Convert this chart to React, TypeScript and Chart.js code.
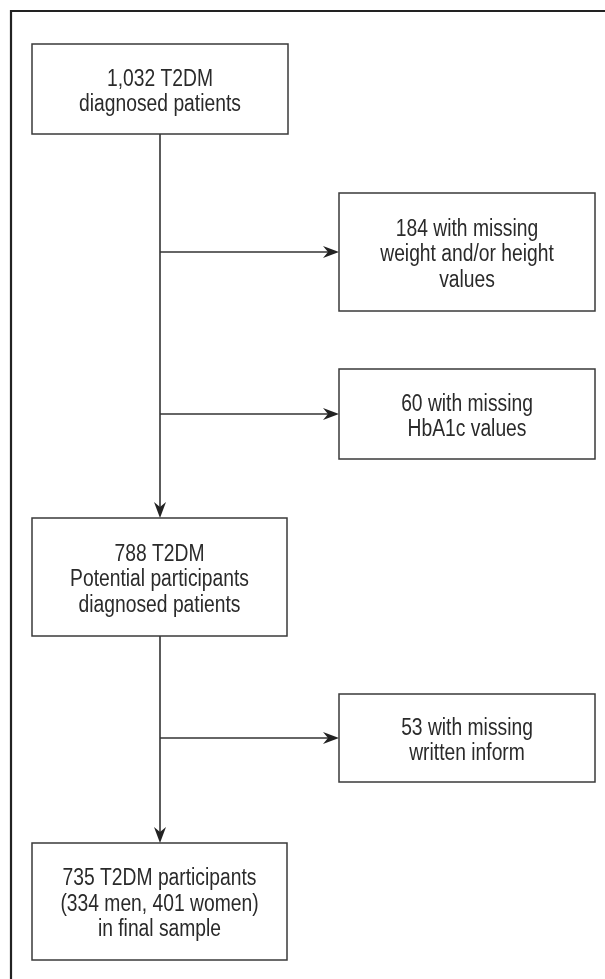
import React, { useEffect, useRef } from "react";
import { Chart, registerables } from "chart.js";

Chart.register(...registerables);

// ---- data ----
const nodeIds = ["screened", "excl1", "excl2", "potential", "excl3", "final"];
const nodeCounts = [1032, 184, 60, 788, 53, 735];
const nodeLines: string[][] = [
  ["1,032 T2DM", "diagnosed patients"],
  ["184 with missing", "weight and/or height", "values"],
  ["60 with missing", "HbA1c values"],
  ["788 T2DM", "Potential participants", "diagnosed patients"],
  ["53 with missing", "written inform"],
  ["735 T2DM participants", "(334 men, 401 women)", "in final sample"],
];
// flow: main steps and exclusions branching off the spine
const mainFlow = [
  ["screened", "potential"],
  ["potential", "final"],
];
const exclusions = [
  ["screened", "potential", "excl1"],
  ["screened", "potential", "excl2"],
  ["potential", "final", "excl3"],
];

// ---- layout (data units = pixels of the 605x979 frame) ----
const layout: Record<string, { x0: number; x1: number; y0: number; y1: number }> = {
  screened: { x0: 32, x1: 288, y0: 44, y1: 134 },
  excl1: { x0: 339, x1: 595, y0: 193, y1: 311 },
  excl2: { x0: 339, x1: 595, y0: 369, y1: 459 },
  potential: { x0: 32, x1: 287, y0: 518, y1: 636 },
  excl3: { x0: 339, x1: 595, y0: 694, y1: 782 },
  final: { x0: 32, x1: 287, y0: 843, y1: 960 },
};
const spineX = 160;

const FONT_SIZE = 23.5;
const LINE_H = 25.5;

const flowPlugin = {
  id: "flowPlugin",
  afterDatasetsDraw(chart: any) {
    const { ctx, scales } = chart;
    const X = (v: number) => scales.x.getPixelForValue(v);
    const Y = (v: number) => scales.y.getPixelForValue(v);
    ctx.save();

    // outer frame
    ctx.strokeStyle = "#222";
    ctx.lineWidth = 2.2;
    ctx.beginPath();
    ctx.moveTo(X(11), Y(990));
    ctx.lineTo(X(11), Y(11));
    ctx.lineTo(X(620), Y(11));
    ctx.stroke();

    // font detection
    ctx.font = `${FONT_SIZE}px "Liberation Sans"`;
    const wReg = ctx.measureText("abcdefghijklmnop").width;
    ctx.font = `${FONT_SIZE}px "Liberation Sans Narrow", "Liberation Sans"`;
    const wNar = ctx.measureText("abcdefghijklmnop").width;
    const hasNarrow = wNar < wReg * 0.95;
    const sx = hasNarrow ? 1 : 0.82;

    const arrow = (tx: number, ty: number, dir: "right" | "down") => {
      ctx.save();
      ctx.translate(tx, ty);
      if (dir === "down") ctx.rotate(Math.PI / 2);
      ctx.fillStyle = "#222";
      ctx.beginPath();
      ctx.moveTo(0, 0);
      ctx.lineTo(-16, -6);
      ctx.lineTo(-11, 0);
      ctx.lineTo(-16, 6);
      ctx.closePath();
      ctx.fill();
      ctx.restore();
    };

    // edges
    ctx.strokeStyle = "#333";
    ctx.lineWidth = 1.6;
    mainFlow.forEach(([a, b]) => {
      const A = layout[a];
      const B = layout[b];
      ctx.beginPath();
      ctx.moveTo(X(spineX), Y(A.y1));
      ctx.lineTo(X(spineX), Y(B.y0) - 10);
      ctx.stroke();
      arrow(X(spineX), Y(B.y0), "down");
    });
    exclusions.forEach(([, , e]) => {
      const E = layout[e];
      const cy = (E.y0 + E.y1) / 2;
      ctx.beginPath();
      ctx.moveTo(X(spineX), Y(cy));
      ctx.lineTo(X(E.x0) - 10, Y(cy));
      ctx.stroke();
      arrow(X(E.x0), Y(cy), "right");
    });

    // boxes
    nodeIds.forEach((id, i) => {
      const L = layout[id];
      const px0 = X(L.x0), px1 = X(L.x1), py0 = Y(L.y0), py1 = Y(L.y1);
      ctx.fillStyle = "#fff";
      ctx.fillRect(px0, py0, px1 - px0, py1 - py0);
      ctx.strokeStyle = "#3a3a3a";
      ctx.lineWidth = 1.5;
      ctx.strokeRect(px0, py0, px1 - px0, py1 - py0);

      const lines = nodeLines[i];
      const cx = (px0 + px1) / 2;
      const cy = (py0 + py1) / 2 + 1;
      ctx.fillStyle = "#2a2a2a";
      ctx.font = hasNarrow
        ? `${FONT_SIZE}px "Liberation Sans Narrow"`
        : `${FONT_SIZE}px "Liberation Sans"`;
      ctx.textAlign = "center";
      ctx.textBaseline = "alphabetic";
      lines.forEach((t, k) => {
        const lc = cy + (k - (lines.length - 1) / 2) * LINE_H;
        ctx.save();
        ctx.translate(cx, lc + FONT_SIZE * 0.36);
        ctx.scale(sx, 1);
        ctx.fillText(t, 0, 0);
        ctx.restore();
      });
    });
    ctx.restore();
  },
};

export default function App() {
  const ref = useRef<HTMLCanvasElement>(null);
  useEffect(() => {
    document.body.style.margin = "0";
    if (!ref.current) return;
    const points = nodeIds.map((id, i) => {
      const L = layout[id];
      return { x: (L.x0 + L.x1) / 2, y: (L.y0 + L.y1) / 2, n: nodeCounts[i] };
    });
    const chart = new Chart(ref.current, {
      type: "scatter",
      data: { datasets: [{ data: points, pointRadius: 0, showLine: false }] },
      options: {
        animation: false,
        responsive: false,
        devicePixelRatio: window.devicePixelRatio || 1,
        layout: { padding: 0 },
        plugins: { legend: { display: false }, tooltip: { enabled: false } },
        scales: {
          x: { type: "linear", min: 0, max: 605, display: false },
          y: { type: "linear", min: 0, max: 979, reverse: true, display: false },
        },
      },
      plugins: [flowPlugin],
    });
    return () => chart.destroy();
  }, []);
  return (
    <div style={{ width: 605, height: 979, background: "#fff" }}>
      <canvas ref={ref} width={605} height={979} style={{ display: "block" }} />
    </div>
  );
}
